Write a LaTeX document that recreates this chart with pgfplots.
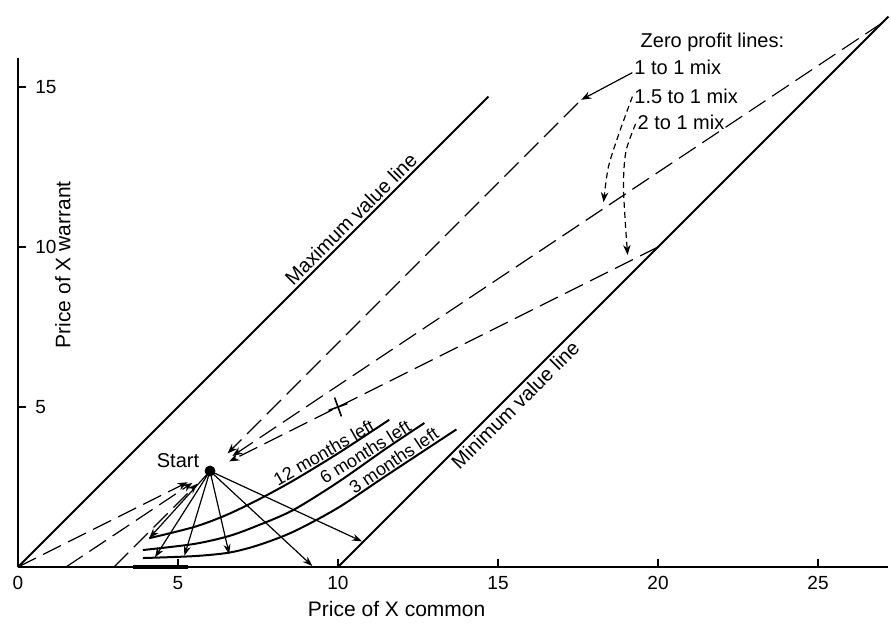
\documentclass[border=0pt]{standalone}
\usepackage{fontspec}
\setmainfont{Liberation Sans}
\usepackage{pgfplots}
\pgfplotsset{compat=1.18}
\usetikzlibrary{arrows.meta}

\tikzset{
  zp/.style={line width=0.6pt, dash pattern=on 10pt off 4pt},
  ray/.style={line width=0.6pt, -{Stealth[length=5pt,width=3.5pt]}},
  curve/.style={line width=1pt, smooth},
  lbl/.style={inner sep=1.5pt, font=\fontsize{10}{12}\selectfont},
  mlbl/.style={inner sep=1pt, font=\fontsize{9}{10}\selectfont, anchor=south},
}

\begin{document}
\fontsize{10.5}{12}\selectfont
\begin{tikzpicture}
\useasboundingbox (-9pt,-31pt) rectangle (436.5pt,283.5pt);
\begin{axis}[
  anchor=origin, at={(0pt,0pt)},
  x=16pt, y=16pt,
  xmin=0, xmax=27.2, ymin=0, ymax=15.9,
  axis x line=bottom, axis y line=left,
  axis line style={-, line width=0.8pt},
  xtick={0,5,...,25}, ytick={5,10,15},
  tick align=inside, major tick length=4pt,
  tick style={line width=0.6pt, black},
  xticklabel style={yshift=-1pt},
  yticklabel style={anchor=west, xshift=5pt},
  /pgf/number format/assume math mode=true,
  ticklabel style={font=\fontsize{9.5}{11}\selectfont},
  xlabel={Price of X common},
  ylabel={Price of X warrant},
  xlabel style={at={(rel axis cs:0.435,-0.082)}, anchor=center},
  ylabel style={at={(rel axis cs:0.0515,0.594)}, anchor=center},
  clip=false,
]
% maximum and minimum value lines
\addplot[line width=0.9pt] coordinates {(0,0) (14.7,14.7)};
\addplot[line width=0.9pt] coordinates {(10,0) (27.2,17.2)};
\addplot[line width=1.8pt] coordinates {(3.6,0) (5.3,0)};

% zero profit lines, 2 to 1 / 1.5 to 1 / 1 to 1
\addplot[zp, -{Stealth[length=5pt]}] coordinates {(0,0) (5.3,2.65)};
\addplot[zp, -{Stealth[length=5pt]}] coordinates {(20,10) (6.6,3.3)};
\addplot[zp, -{Stealth[length=5pt]}] coordinates {(1.5,0) (5.45,2.63)};
\addplot[zp, -{Stealth[length=5pt]}] coordinates {(27,17) (6.7,3.47)};
\addplot[zp, -{Stealth[length=5pt]}] coordinates {(3,0) (5.6,2.6)};
\addplot[zp, -{Stealth[length=5pt]}] coordinates {(17.5,14.5) (6.55,3.55)};

% months-left curves
\addplot[curve] coordinates {(4.1,0.9) (5.5,1.25) (6.5,1.62) (7.5,2.1) (8.6,2.7) (10,3.55) (11.6,4.6)};
\addplot[curve] coordinates {(3.9,0.53) (5.5,0.72) (6.6,0.97) (7.5,1.3) (8.6,1.78) (10,2.65) (11.5,3.7) (12.7,4.5)};
\addplot[curve] coordinates {(3.9,0.28) (5.5,0.34) (6.6,0.45) (7.5,0.68) (8.6,1.1) (10,1.85) (11.5,2.85) (13.7,4.3)};

% rays from start
\addplot[ray] coordinates {(6,3) (4.1,0.9)};
\addplot[ray] coordinates {(6,3) (4.28,0.3)};
\addplot[ray] coordinates {(6,3) (5.2,0.35)};
\addplot[ray] coordinates {(6,3) (6.6,0.4)};
\addplot[ray] coordinates {(6,3) (9.2,0.03)};
\addplot[ray] coordinates {(6,3) (10.75,0.8)};

% start point and the cross
\addplot[only marks, mark=*, mark size=2.5pt] coordinates {(6,3)};
\addplot[only marks, mark=+, mark size=5pt, mark options={rotate=20, line width=0.8pt}] coordinates {(10,5)};

% label arrows
\addplot[line width=0.6pt, -{Stealth[length=5pt]}] coordinates {(19.2,15.45) (17.6,14.6)};
\addplot[line width=0.6pt, dash pattern=on 3pt off 2pt, smooth, -{Stealth[length=5pt]}] coordinates {(19.2,14.7) (18.8,13.6) (18.45,12.5) (18.3,11.4)};
\addplot[line width=0.6pt, dash pattern=on 3pt off 2pt, smooth, -{Stealth[length=5pt]}] coordinates {(19.3,13.85) (19.0,13.0) (18.92,12.0) (18.97,10.9) (19.05,9.75)};

% texts
\node[lbl] at (axis cs:21.7,16.4) {Zero profit lines:};
\node[lbl, anchor=west, inner sep=0pt] at (axis cs:19.25,15.6) {1 to 1 mix};
\node[lbl, anchor=west, inner sep=0pt] at (axis cs:19.25,14.7) {1.5 to 1 mix};
\node[lbl, anchor=west, inner sep=0pt] at (axis cs:19.35,13.9) {2 to 1 mix};
\node[lbl, anchor=south, rotate=45] at (axis cs:10.64,10.64) {Maximum value line};
\node[lbl, anchor=north, rotate=45] at (axis cs:15.3,5.3) {Minimum value line};
\node[lbl] at (axis cs:5.0,3.34) {Start};
\node[mlbl, rotate=30] at (axis cs:9.7,3.33) {12 months left};
\node[mlbl, rotate=32] at (axis cs:11.0,3.35) {6 months left};
\node[mlbl, rotate=34] at (axis cs:11.9,3.1) {3 months left};
\end{axis}
\end{tikzpicture}
\end{document}
